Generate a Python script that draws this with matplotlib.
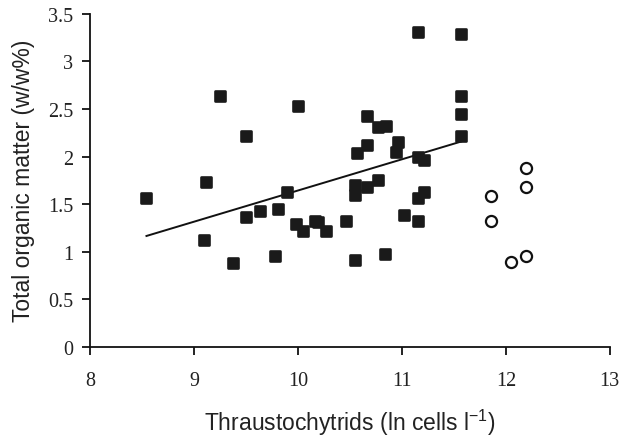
import numpy as np
import matplotlib.pyplot as plt
from matplotlib.markers import MarkerStyle

plt.rcParams["mathtext.fontset"] = "custom"
plt.rcParams["mathtext.rm"] = "Liberation Sans"
plt.rcParams["mathtext.it"] = "Liberation Sans:italic"

# ---------- Data ----------
thr_filled = [8.54, 9.09, 9.11, 9.25, 9.37, 9.50, 9.50, 9.63, 9.78, 9.81,
              9.89, 10.00, 9.98, 10.05, 10.16, 10.19, 10.27, 10.46, 10.55, 10.55,
              10.55, 10.57, 10.66, 10.66, 10.66, 10.77, 10.77, 10.85, 10.84, 10.94,
              10.96, 11.02, 11.15, 11.15, 11.15, 11.21, 11.15, 11.21, 11.57, 11.57,
              11.57, 11.57]
tom_filled = [1.56, 1.12, 1.73, 2.64, 0.88, 2.22, 1.36, 1.43, 0.95, 1.45,
              1.63, 2.53, 1.29, 1.22, 1.32, 1.31, 1.22, 1.32, 0.91, 1.70,
              1.60, 2.04, 2.12, 2.43, 1.68, 1.75, 2.31, 2.32, 0.98, 2.05,
              2.15, 1.39, 3.31, 1.32, 2.00, 1.96, 1.56, 1.63, 3.29, 2.64,
              2.45, 2.22]

thr_open = [11.86, 11.86, 12.05, 12.19, 12.19, 12.19]
tom_open = [1.58, 1.32, 0.89, 0.95, 1.68, 1.88]

x_ticks = [8, 9, 10, 11, 12, 13]
y_ticks = [0, 0.5, 1, 1.5, 2, 2.5, 3, 3.5]
y_ticklabels = ["0", "0.5", "1", "1.5", "2", "2.5", "3", "3.5"]

# ---------- Figure ----------
fig = plt.figure(figsize=(6.19, 4.39), dpi=100)
ax = fig.add_axes([0.146, 0.208, 0.839, 0.758])

# trend line through the filled points
slope, icpt = np.polyfit(thr_filled, tom_filled, 1)
xl = np.array([min(thr_filled), max(thr_filled)])
ax.plot(xl, icpt + slope * xl, color="#111111", lw=1.4, zorder=2)

sq = MarkerStyle("s", joinstyle="round")
ax.plot(thr_filled, tom_filled, ls="none", marker=sq, ms=7.6,
        mfc="#1a1a1a", mec="#1a1a1a", mew=1.9, zorder=3)

ax.plot(thr_open, tom_open, ls="none", marker="o", ms=8,
        mfc="white", mec="#111111", mew=1.6, zorder=3)

ax.set_xlim(8, 13)
ax.set_ylim(0, 3.5)
ax.set_xticks(x_ticks)
ax.set_yticks(y_ticks)
ax.set_yticklabels(y_ticklabels)

for s in ["top", "right"]:
    ax.spines[s].set_visible(False)
for s in ["left", "bottom"]:
    ax.spines[s].set_linewidth(1.3)
    ax.spines[s].set_color("#111111")

ax.tick_params(direction="out", length=5.5, width=1.3, color="#111111",
               labelsize=14.5)
ax.tick_params(axis="x", pad=12)
ax.tick_params(axis="y", pad=7)
for lab in ax.get_xticklabels() + ax.get_yticklabels():
    lab.set_family("Liberation Serif")
    lab.set_color("#222222")

ax.set_xlabel(r"Thraustochytrids (ln cells l$^{-1}$)", fontsize=16.5,
              family="Liberation Sans", color="#222222", labelpad=12)
ax.set_ylabel("Total organic matter (w/w%)", fontsize=16.5,
              family="Liberation Sans", color="#222222", labelpad=9)

fig.savefig("out.png", dpi=100)
